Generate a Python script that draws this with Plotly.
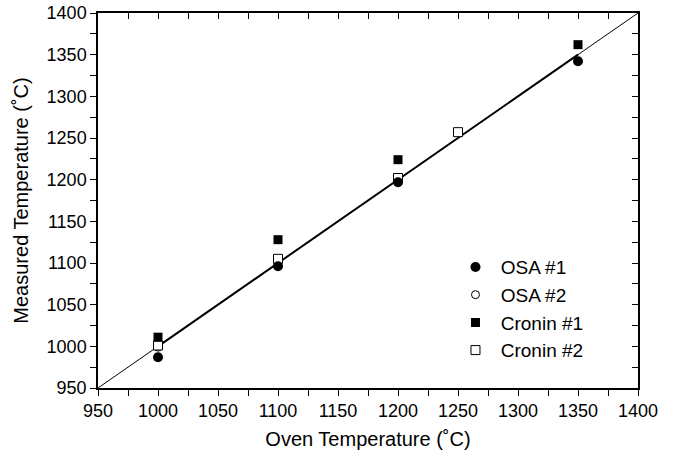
import plotly.graph_objects as go

oven_osa1 = [1000, 1100, 1200, 1350]
meas_osa1 = [987, 1096, 1197, 1342]
oven_osa2 = [1000, 1100, 1200]
meas_osa2 = [999, 1099, 1198]
oven_cr1 = [1000, 1100, 1200, 1350]
meas_cr1 = [1011, 1128, 1224, 1362]
oven_cr2 = [1000, 1100, 1200, 1250]
meas_cr2 = [1001, 1105, 1202, 1257]
ideal = [950, 1400]
fit = [1000, 1350]

tickvals = list(range(950, 1401, 25))
ticktext = [str(v) if v % 50 == 0 else "" for v in tickvals]

FONT = "Liberation Sans, Arial, Helvetica, sans-serif"

fig = go.Figure()
fig.add_trace(go.Scatter(x=ideal, y=ideal, mode="lines", line=dict(color="black", width=1), showlegend=False, hoverinfo="skip"))
fig.add_trace(go.Scatter(x=fit, y=fit, mode="lines", line=dict(color="black", width=2), showlegend=False, hoverinfo="skip"))
fig.add_trace(go.Scatter(x=oven_osa2, y=meas_osa2, mode="markers", name=" OSA #2",
                         marker=dict(symbol="circle-open", size=8, color="black", line=dict(width=1))))
fig.add_trace(go.Scatter(x=oven_cr2, y=meas_cr2, mode="markers", name=" Cronin #2",
                         marker=dict(symbol="square", size=9, color="white", line=dict(width=1, color="black"))))
fig.add_trace(go.Scatter(x=oven_osa1, y=meas_osa1, mode="markers", name=" OSA #1",
                         marker=dict(symbol="circle", size=10, color="black")))
fig.add_trace(go.Scatter(x=oven_cr1, y=meas_cr1, mode="markers", name=" Cronin #1",
                         marker=dict(symbol="square", size=9, color="black")))
fig.add_trace(go.Scatter(x=[950], y=[950], xaxis="x2", yaxis="y2", mode="markers",
                         marker=dict(opacity=0), showlegend=False, hoverinfo="skip"))

axis_common = dict(range=[950, 1400], tickvals=tickvals, showgrid=False, zeroline=False,
                   showline=True, linecolor="black", linewidth=1.5, tickcolor="black",
                   ticklen=6, tickwidth=1.2, automargin=False)

fig.update_layout(
    width=676, height=457,
    margin=dict(l=98, r=38, t=13, b=69),
    paper_bgcolor="white", plot_bgcolor="white",
    font=dict(family=FONT, size=18, color="black"),
    xaxis=dict(**axis_common, ticks="outside", ticktext=ticktext,
               tickfont=dict(size=18), title=dict(text="Oven Temperature (˚C)", font=dict(size=20), standoff=12)),
    yaxis=dict(**axis_common, ticks="outside", ticktext=ticktext,
               tickfont=dict(size=18), title=dict(text="Measured Temperature (˚C)", font=dict(size=20), standoff=13)),
    xaxis2=dict(**axis_common, overlaying="x", side="top", ticks="inside", showticklabels=False),
    yaxis2=dict(**axis_common, overlaying="y", side="right", ticks="inside", showticklabels=False),
    legend=dict(x=0.662, y=0.373, xanchor="left", yanchor="top", traceorder="normal",
                font=dict(size=19), bgcolor="rgba(0,0,0,0)", itemwidth=30, tracegroupgap=0),
    showlegend=True,
)
order = {" OSA #1": 1, " OSA #2": 2, " Cronin #1": 3, " Cronin #2": 4}
for t in fig.data:
    if t.name in order:
        t.legendrank = order[t.name]

fig.write_html("out.html")
